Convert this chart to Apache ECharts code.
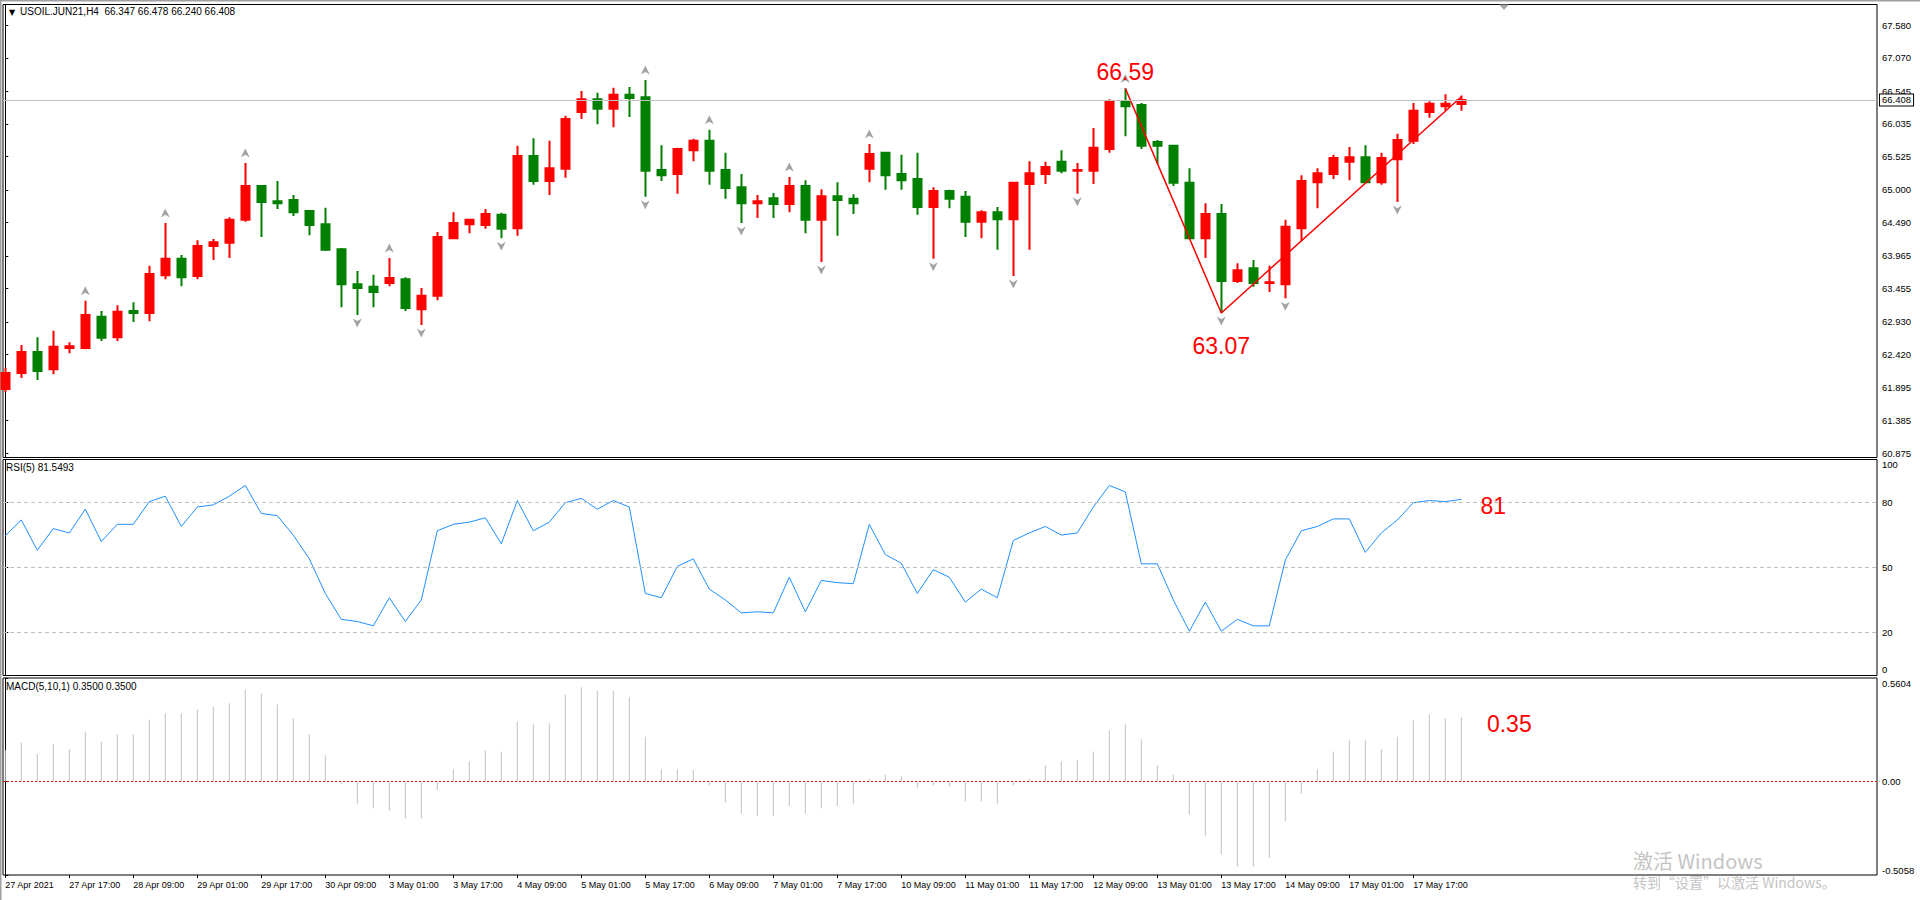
<!DOCTYPE html>
<html><head><meta charset="utf-8">
<script src="https://cdn.jsdelivr.net/npm/echarts@6/dist/echarts.min.js"></script>
<style>html,body{margin:0;padding:0;background:#fff;}#c{width:1920px;height:900px;}</style>
</head><body><div id="c"></div>
<script>
// ---- data ----
const symbolName = 'USOIL.JUN21,H4';
const timeLabels = ['27 Apr 2021','27 Apr 17:00','28 Apr 09:00','29 Apr 01:00','29 Apr 17:00','30 Apr 09:00',
  '3 May 01:00','3 May 17:00','4 May 09:00','5 May 01:00','5 May 17:00','6 May 09:00','7 May 01:00','7 May 17:00',
  '10 May 09:00','11 May 01:00','11 May 17:00','12 May 09:00','13 May 01:00','13 May 17:00','14 May 09:00',
  '17 May 01:00','17 May 17:00'];
const labelStep = 4;
const opens = [61.88,62.13,62.46,62.19,62.52,62.52,63.01,62.69,63.10,63.07,
63.66,63.92,63.65,64.12,64.17,64.53,65.06,64.82,64.84,64.67,
64.46,64.07,63.52,63.48,63.54,63.60,63.13,63.34,64.24,64.46,
64.45,64.61,64.40,65.53,65.14,65.33,66.22,66.42,66.27,66.49,
66.45,65.31,65.25,65.62,65.77,65.31,65.04,64.79,64.87,64.78,
65.06,64.53,64.90,64.86,65.33,65.58,65.25,65.17,64.73,64.98,
64.89,64.50,64.65,64.54,65.09,65.25,65.44,65.30,65.30,65.64,
66.39,66.33,65.75,65.69,65.11,64.24,64.62,63.57,63.77,63.54,
63.52,64.40,65.12,65.25,65.44,65.51,65.12,65.48,65.77,66.22,
66.31,66.347];
const closes = [62.13,62.46,62.16,62.54,62.55,63.04,62.68,63.09,63.07,63.68,
63.92,63.63,64.12,64.18,64.53,65.06,64.81,64.79,64.65,64.45,
64.06,63.52,63.46,63.40,63.62,63.15,63.34,64.26,64.48,64.53,
64.62,64.39,65.53,65.14,65.34,66.11,66.42,66.27,66.49,66.44,
65.30,65.23,65.64,65.77,65.30,65.03,64.79,64.82,64.78,65.06,
64.53,64.90,64.84,64.79,65.56,65.23,65.15,64.73,64.98,64.86,
64.50,64.65,64.54,65.11,65.26,65.36,65.30,65.31,65.66,66.39,
66.31,65.69,65.69,65.11,64.24,64.62,63.57,63.74,63.54,63.55,
64.42,65.14,65.26,65.50,65.51,65.12,65.50,65.78,66.24,66.35,
66.35,66.408];
const lows = [61.83,62.05,62.02,62.11,62.44,62.50,62.63,62.63,62.93,62.94,
63.60,63.49,63.60,63.90,63.93,64.50,64.26,64.70,64.59,64.29,
64.04,63.16,63.04,63.16,63.49,63.10,62.88,63.27,64.23,64.32,
64.39,64.24,64.28,65.08,64.92,65.19,66.11,66.03,65.98,66.14,
64.89,65.14,64.94,65.45,65.08,64.86,64.48,64.56,64.56,64.65,
64.32,63.87,64.28,64.62,65.12,65.00,65.00,64.61,63.92,64.71,
64.26,64.24,64.06,63.65,64.06,65.09,65.26,64.94,65.09,65.58,
65.84,65.64,65.41,65.06,64.24,63.93,63.07,63.54,63.48,63.40,
63.30,64.20,64.71,65.17,65.15,65.12,65.08,64.81,65.72,66.13,
66.24,66.240];
const highs = [62.21,62.57,62.69,62.79,62.61,63.26,63.10,63.19,63.24,63.81,
64.48,63.98,64.21,64.23,64.57,65.42,65.07,65.14,64.92,64.67,
64.72,64.09,63.73,63.67,63.93,63.63,63.46,64.34,64.65,64.54,
64.70,64.64,65.69,65.81,65.77,66.16,66.55,66.52,66.60,66.61,
66.72,65.70,65.66,65.80,65.94,65.58,65.25,64.92,64.95,65.20,
65.15,65.01,65.12,64.93,65.72,65.58,65.55,65.58,65.04,65.00,
64.98,64.68,64.73,65.12,65.45,65.44,65.62,65.42,65.97,66.42,
66.59,66.36,65.78,65.69,65.34,64.79,64.78,63.85,63.90,63.81,
64.53,65.23,65.34,65.55,65.67,65.70,65.58,65.88,66.36,66.39,
66.50,66.478];
const rsi = [64.7,72,58,68,66,77,62,70,70,80.5,
83,69,78,79,83,88,75,74,65,54,
38,26,25,23,36,25,35,67,70,71,
73,61,81,67,71,80,82,77,81,78,
38,36,50.5,54,40,35,29,29.5,29,45.5,
29.5,44,43,42.5,70,56,52,38,49,45.5,
34,40,36,62.5,66,69,65,66,78,88,
85,51.7,51.7,35,20.5,34,20.5,26,23,23,
53.5,67,69,72.5,72.5,57,66,72,80,81,
80.5,81.5493];
const macd = [0.169,0.209,0.149,0.202,0.176,0.269,0.216,0.256,0.256,0.336,
0.37,0.37,0.39,0.403,0.424,0.497,0.477,0.417,0.343,0.256,
0.142,-0.012,-0.119,-0.146,-0.16,-0.2,-0.2,-0.046,0.068,0.109,
0.169,0.162,0.323,0.31,0.316,0.47,0.51,0.49,0.49,0.457,
0.243,0.068,0.068,0.062,-0.019,-0.113,-0.173,-0.186,-0.186,-0.133,
-0.173,-0.146,-0.133,-0.119,0.015,0.035,0.028,-0.032,-0.019,-0.025,
-0.106,-0.106,-0.119,-0.019,0.015,0.088,0.109,0.115,0.162,0.276,
0.31,0.229,0.088,0.035,-0.18,-0.294,-0.394,-0.461,-0.461,-0.414,
-0.213,-0.066,0.068,0.162,0.223,0.223,0.176,0.243,0.33,0.363,
0.343,0.35];
const fractalUp = [5,10,15,24,40,44,49,54,70];
const fractalDown = [22,26,31,40,46,51,58,63,67,76,80,87];
const zigzag = [[70,66.59],[76,63.07],[91,66.46]];
const priceTicks = [67.580,67.070,66.545,66.035,65.525,65.000,64.490,63.965,63.455,62.930,62.420,61.895,61.385,60.875];
const rsiTicks = [0,20,50,80,100];
const rsiLevels = [20,50,80];
const macdTicks = [-0.5058,0,0.5604];

// ---- chart ----
const FONT = '"Liberation Sans", Arial, "DejaVu Sans", sans-serif';
const N = opens.length;
const last = N - 1;
const candles = opens.map((o,i)=>[i,o,closes[i],lows[i],highs[i]]);
const xMin = -0.144, xMax = 116.98;
const xTickVals = timeLabels.map((_,i)=>i*labelStep);
const rsiLabelVals = rsiTicks.filter(v=>v>0);
const upArrow = 'path://M5,0 L10,10 L5,7 L0,10 Z';
const downArrow = 'path://M5,10 L10,0 L5,3 L0,0 Z';
const PLOT_LEFT = 3, PLOT_W = 1874;
const gridBase = {left:PLOT_LEFT, width:PLOT_W, show:true, borderColor:'#000', borderWidth:1, backgroundColor:'transparent'};
const priceGrid = {top:4.5, height:453};
const rsiGrid = {top:459.5, height:216};
const macdGrid = {top:678, height:197};

const chart = echarts.init(document.getElementById('c'), null, {renderer:'svg'});
const option = {
  animation:false,
  backgroundColor:'#fff',
  grid:[
    Object.assign({}, priceGrid, gridBase),
    Object.assign({}, rsiGrid, gridBase),
    Object.assign({}, macdGrid, gridBase)
  ],
  xAxis:[0,1,2].map(i=>({
    type:'value', gridIndex:i, min:xMin, max:xMax, position:'bottom',
    axisLine:{show:false, onZero:false}, splitLine:{show:false},
    axisTick:{show:i===2, customValues:xTickVals, length:3, lineStyle:{color:'#000'}},
    axisLabel:{show:i===2, customValues:xTickVals, formatter:v=>timeLabels[Math.round(v/labelStep)],
      align:'left', fontSize:9, fontFamily:FONT, color:'#000', margin:5}
  })),
  yAxis:[
    {type:'value', gridIndex:0, position:'right', min:60.805, max:67.905,
     axisLine:{show:true, lineStyle:{color:'#000'}}, splitLine:{show:false},
     axisTick:{show:true, customValues:priceTicks, length:3, lineStyle:{color:'#000'}},
     axisLabel:{customValues:priceTicks, formatter:v=>v.toFixed(3), fontSize:9.5, fontFamily:FONT, color:'#000', margin:5}},
    {type:'value', gridIndex:1, position:'right', min:0, max:100,
     axisLine:{show:true, lineStyle:{color:'#000'}}, splitLine:{show:false},
     axisTick:{show:true, customValues:rsiTicks, length:3, lineStyle:{color:'#000'}},
     axisLabel:{customValues:rsiLabelVals, formatter:v=>String(v), fontSize:9.5, fontFamily:FONT, color:'#000', margin:5,
       showMaxLabel:true, verticalAlignMaxLabel:'top'}},
    {type:'value', gridIndex:2, position:'right', min:macdTicks[0], max:macdTicks[2],
     axisLine:{show:true, lineStyle:{color:'#000'}}, splitLine:{show:false},
     axisTick:{show:true, customValues:macdTicks, length:3, lineStyle:{color:'#000'}},
     axisLabel:{customValues:macdTicks, formatter:v=>(v===0?'0.00':v.toFixed(4)), fontSize:9.5, fontFamily:FONT, color:'#000', margin:5,
       showMinLabel:true, showMaxLabel:true,
       verticalAlignMaxLabel:'top', verticalAlignMinLabel:'bottom'}}
  ],
  series:[
    {type:'candlestick', xAxisIndex:0, yAxisIndex:0, data:candles,
     dimensions:['k','open','close','lowest','highest'], encode:{x:0, y:[1,2,3,4]},
     barWidth:9, clip:true,
     itemStyle:{color:'#ff0000', color0:'#008000', borderColor:'#ff0000', borderColor0:'#008000', borderWidth:2},
     markLine:{silent:true, symbol:['none','none'],
       lineStyle:{color:'#c0c0c0', type:'solid', width:1},
       label:{show:true, position:'end', formatter:closes[last].toFixed(3), fontSize:9.5, fontFamily:FONT, color:'#000',
         backgroundColor:'#fff', borderColor:'#000', borderWidth:1, padding:[1,2,0,2], distance:3},
       data:[{yAxis:closes[last]}]}},
    {type:'scatter', xAxisIndex:0, yAxisIndex:0, data:fractalUp.map(k=>[k,highs[k]]),
     symbol:upArrow, symbolSize:[9,9], symbolOffset:[0,-10], itemStyle:{color:'#8c8c8c'}, silent:true},
    {type:'scatter', xAxisIndex:0, yAxisIndex:0, data:fractalDown.map(k=>[k,lows[k]]),
     symbol:downArrow, symbolSize:[9,9], symbolOffset:[0,8], itemStyle:{color:'#8c8c8c'}, silent:true},
    {type:'line', xAxisIndex:0, yAxisIndex:0, data:zigzag, symbol:'none',
     lineStyle:{color:'#ff0000', width:1.5}, silent:true,
     markPoint:{symbol:'circle', symbolSize:1, itemStyle:{color:'transparent'},
       label:{show:true, color:'#ff0000', fontSize:23, fontFamily:FONT, position:'inside'},
       data:[
         {coord:zigzag[0], label:{formatter:zigzag[0][1].toFixed(2), offset:[0,-16]}},
         {coord:zigzag[1], label:{formatter:zigzag[1][1].toFixed(2), offset:[0,33]}}
       ]}},
    {type:'line', xAxisIndex:1, yAxisIndex:1, data:rsi.map((v,i)=>[i,v]), symbol:'none',
     lineStyle:{color:'#1e90ff', width:1}, silent:true,
     markLine:{silent:true, symbol:['none','none'], label:{show:false},
       lineStyle:{color:'#c0c0c0', type:[4,3], width:1},
       data:rsiLevels.map(v=>({yAxis:v}))},
     markPoint:{symbol:'circle', symbolSize:1, itemStyle:{color:'transparent'},
       label:{show:true, color:'#ff0000', fontSize:23, fontFamily:FONT, position:'inside'},
       data:[{coord:[93,80], label:{formatter:String(Math.floor(rsi[last])), offset:[0,3]}}]}},
    {type:'bar', xAxisIndex:2, yAxisIndex:2, data:macd.map((v,i)=>[i,v]), barWidth:1,
     itemStyle:{color:'#c0c0c0'}, silent:true,
     markLine:{silent:true, symbol:['none','none'], label:{show:false},
       lineStyle:{color:'#ff0000', type:[2,2], width:1},
       data:[{yAxis:0}]},
     markPoint:{symbol:'circle', symbolSize:1, itemStyle:{color:'transparent'},
       label:{show:true, color:'#ff0000', fontSize:23, fontFamily:FONT, position:'inside'},
       data:[{coord:[94,0.33], label:{formatter:macd[last].toFixed(2), offset:[0,3]}}]}}
  ],
  graphic:[
    {type:'rect', shape:{x:0,y:0,width:1920,height:1.5}, style:{fill:'#a0a0a0'}, silent:true},
    {type:'rect', shape:{x:0,y:0,width:1.5,height:900}, style:{fill:'#a0a0a0'}, silent:true},
    {type:'polygon', shape:{points:[[1499,4.5],[1509,4.5],[1504,10]]}, style:{fill:'#a8a8a8'}, silent:true},
    {type:'text', left:9, top:8, style:{text:'\u25BC', fontSize:8, fill:'#000', fontFamily:'"DejaVu Sans", sans-serif'}},
    {type:'text', left:20, top:6, style:{text:symbolName+'  '+[opens[last],highs[last],lows[last],closes[last]].map(v=>v.toFixed(3)).join(' '),
      fontSize:10, fill:'#000', fontFamily:FONT}},
    {type:'text', left:6, top:462, style:{text:'RSI(5) '+rsi[last].toFixed(4), fontSize:10, fill:'#000', fontFamily:FONT}},
    {type:'text', left:6, top:681, style:{text:'MACD(5,10,1) '+macd[last].toFixed(4)+' '+macd[last].toFixed(4), fontSize:10, fill:'#000', fontFamily:FONT}},
    // bottom "0" label of the RSI scale, just inside the pane's lower edge
    {type:'text', left:PLOT_LEFT+PLOT_W+5, top:rsiGrid.top+rsiGrid.height-11,
      style:{text:String(rsiTicks[0]), fontSize:9.5, fill:'#000', fontFamily:FONT}},
    {type:'text', left:1633, top:850, style:{text:'激活 Windows', fontSize:20, fill:'#c4c4c4', fontFamily:'"Noto Sans CJK SC", sans-serif'}},
    {type:'text', left:1633, top:875, style:{text:'转到“设置”以激活 Windows。', fontSize:14, fill:'#c4c4c4', fontFamily:'"Noto Sans CJK SC", sans-serif'}}
  ]
};
chart.setOption(option);
</script></body></html>
